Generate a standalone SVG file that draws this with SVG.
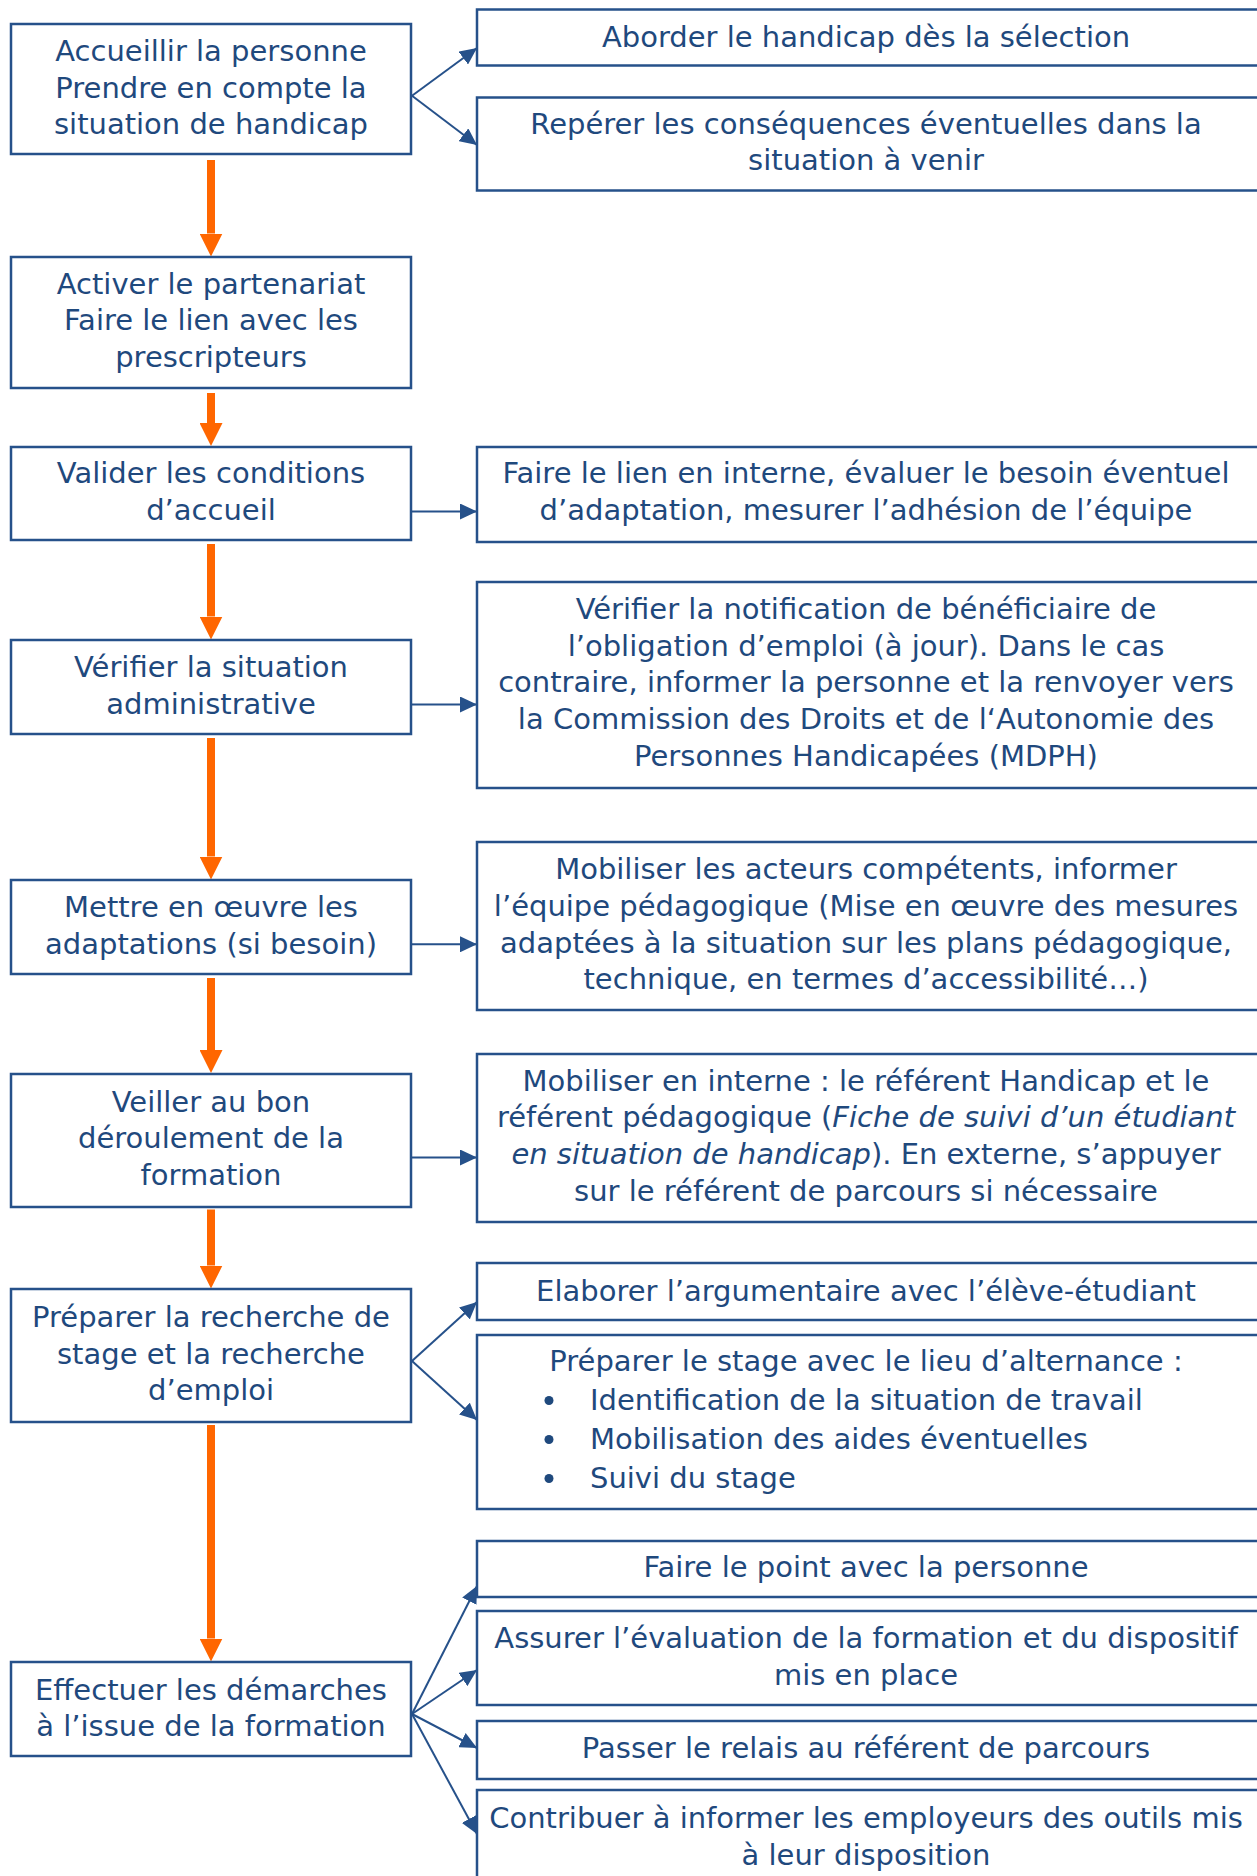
<svg xmlns="http://www.w3.org/2000/svg" width="1257" height="1876" viewBox="0 0 1257 1876">
<style>
.box{fill:#ffffff;stroke:#26518A;stroke-width:2.5}
.t{font-family:"DejaVu Sans","Liberation Sans",sans-serif;font-size:29px;fill:#1F497D;text-anchor:middle}
.ts{text-anchor:start}
.it{font-style:italic}
.bl{stroke:#26518A;stroke-width:2;fill:none}
.or{stroke:#FF6600;stroke-width:8;fill:none}
</style>
<defs>
<marker id="bh" viewBox="0 0 17 16" refX="17" refY="8" markerWidth="17" markerHeight="16" markerUnits="userSpaceOnUse" orient="auto">
<path d="M0,0 L17,8 L0,16 z" fill="#26518A"/>
</marker>
<marker id="oh" viewBox="0 0 23 23" refX="0" refY="11.5" markerWidth="23" markerHeight="23" markerUnits="userSpaceOnUse" orient="auto">
<path d="M0,0 L23,11.5 L0,23 z" fill="#FF6600"/>
</marker>
</defs>
<rect width="1257" height="1876" fill="#ffffff"/>

<g id="connectors">
<line class="or" x1="211" y1="160" x2="211" y2="233.5" marker-end="url(#oh)"/>
<line class="or" x1="211" y1="393" x2="211" y2="423" marker-end="url(#oh)"/>
<line class="or" x1="211" y1="544" x2="211" y2="616.5" marker-end="url(#oh)"/>
<line class="or" x1="211" y1="738" x2="211" y2="856.5" marker-end="url(#oh)"/>
<line class="or" x1="211" y1="978" x2="211" y2="1050" marker-end="url(#oh)"/>
<line class="or" x1="211" y1="1209.5" x2="211" y2="1265.5" marker-end="url(#oh)"/>
<line class="or" x1="211" y1="1425" x2="211" y2="1638.5" marker-end="url(#oh)"/>
<line class="bl" x1="412" y1="95.7" x2="477" y2="48" marker-end="url(#bh)"/>
<line class="bl" x1="412" y1="95.7" x2="477" y2="145" marker-end="url(#bh)"/>
<line class="bl" x1="411" y1="511.5" x2="477" y2="511.5" marker-end="url(#bh)"/>
<line class="bl" x1="411" y1="704.5" x2="477" y2="704.5" marker-end="url(#bh)"/>
<line class="bl" x1="411" y1="944.3" x2="477" y2="944.3" marker-end="url(#bh)"/>
<line class="bl" x1="411" y1="1157.5" x2="477" y2="1157.5" marker-end="url(#bh)"/>
<line class="bl" x1="412" y1="1361" x2="477" y2="1302" marker-end="url(#bh)"/>
<line class="bl" x1="412" y1="1361" x2="477" y2="1420" marker-end="url(#bh)"/>
<line class="bl" x1="412" y1="1714" x2="477" y2="1586" marker-end="url(#bh)"/>
<line class="bl" x1="412" y1="1714" x2="477" y2="1670" marker-end="url(#bh)"/>
<line class="bl" x1="412" y1="1714" x2="477" y2="1748" marker-end="url(#bh)"/>
<line class="bl" x1="412" y1="1714" x2="477" y2="1834" marker-end="url(#bh)"/>
</g>

<g id="a1"><rect class="box" x="11" y="24" width="400" height="130"/>
<text class="t" x="211" y="61">Accueillir la personne</text>
<text class="t" x="211" y="97.7">Prendre en compte la</text>
<text class="t" x="211" y="134.4">situation de handicap</text></g>

<g id="r1"><rect class="box" x="477" y="9.5" width="800" height="56"/>
<text class="t" x="866" y="46.5">Aborder le handicap dès la sélection</text></g>

<g id="r2"><rect class="box" x="477" y="97.5" width="800" height="93"/>
<text class="t" x="866" y="133.5">Repérer les conséquences éventuelles dans la</text>
<text class="t" x="866" y="170.2">situation à venir</text></g>

<g id="a2"><rect class="box" x="11" y="257" width="400" height="131"/>
<text class="t" x="211" y="293.5">Activer le partenariat</text>
<text class="t" x="211" y="330.2">Faire le lien avec les</text>
<text class="t" x="211" y="366.9">prescripteurs</text></g>

<g id="a3"><rect class="box" x="11" y="447" width="400" height="93"/>
<text class="t" x="211" y="483.3">Valider les conditions</text>
<text class="t" x="211" y="520">d’accueil</text></g>

<g id="r3"><rect class="box" x="477" y="447" width="800" height="95"/>
<text class="t" x="866" y="483.3">Faire le lien en interne, évaluer le besoin éventuel</text>
<text class="t" x="866" y="520">d’adaptation, mesurer l’adhésion de l’équipe</text></g>

<g id="a4"><rect class="box" x="11" y="640" width="400" height="94"/>
<text class="t" x="211" y="677">Vérifier la situation</text>
<text class="t" x="211" y="713.7">administrative</text></g>

<g id="r4"><rect class="box" x="477" y="582" width="800" height="206"/>
<text class="t" x="866" y="619">Vérifier la notification de bénéficiaire de</text>
<text class="t" x="866" y="655.7">l’obligation d’emploi (à jour). Dans le cas</text>
<text class="t" x="866" y="692.4">contraire, informer la personne et la renvoyer vers</text>
<text class="t" x="866" y="729.1">la Commission des Droits et de l‘Autonomie des</text>
<text class="t" x="866" y="765.8">Personnes Handicapées (MDPH)</text></g>

<g id="a5"><rect class="box" x="11" y="880" width="400" height="94"/>
<text class="t" x="211" y="917.3">Mettre en œuvre les</text>
<text class="t" x="211" y="954">adaptations (si besoin)</text></g>

<g id="r5"><rect class="box" x="477" y="842" width="800" height="168"/>
<text class="t" x="866" y="879.3">Mobiliser les acteurs compétents, informer</text>
<text class="t" x="866" y="916">l’équipe pédagogique (Mise en œuvre des mesures</text>
<text class="t" x="866" y="952.7">adaptées à la situation sur les plans pédagogique,</text>
<text class="t" x="866" y="989.4">technique, en termes d’accessibilité…)</text></g>

<g id="a6"><rect class="box" x="11" y="1074" width="400" height="133"/>
<text class="t" x="211" y="1111.7">Veiller au bon</text>
<text class="t" x="211" y="1148.4">déroulement de la</text>
<text class="t" x="211" y="1185.1">formation</text></g>

<g id="r6"><rect class="box" x="477" y="1054" width="800" height="168"/>
<text class="t" x="866" y="1090.5">Mobiliser en interne : le référent Handicap et le</text>
<text class="t" x="866" y="1127.2">référent pédagogique (<tspan class="it">Fiche de suivi d’un étudiant</tspan></text>
<text class="t" x="866" y="1163.9"><tspan class="it">en situation de handicap</tspan>). En externe, s’appuyer</text>
<text class="t" x="866" y="1200.6">sur le référent de parcours si nécessaire</text></g>

<g id="a7"><rect class="box" x="11" y="1289" width="400" height="133"/>
<text class="t" x="211" y="1327">Préparer la recherche de</text>
<text class="t" x="211" y="1363.7">stage et la recherche</text>
<text class="t" x="211" y="1400.4">d’emploi</text></g>

<g id="r7"><rect class="box" x="477" y="1263" width="800" height="57"/>
<text class="t" x="866" y="1300.5">Elaborer l’argumentaire avec l’élève-étudiant</text></g>

<g id="r8"><rect class="box" x="477" y="1335" width="800" height="174"/>
<text class="t" x="866" y="1371">Préparer le stage avec le lieu d’alternance :</text>
<circle cx="549" cy="1400.5" r="4.5" fill="#1F497D"/>
<circle cx="549" cy="1439.5" r="4.5" fill="#1F497D"/>
<circle cx="549" cy="1478.5" r="4.5" fill="#1F497D"/>
<text class="t ts" x="590" y="1410">Identification de la situation de travail</text>
<text class="t ts" x="590" y="1449">Mobilisation des aides éventuelles</text>
<text class="t ts" x="590" y="1488">Suivi du stage</text></g>

<g id="a8"><rect class="box" x="11" y="1662" width="400" height="94"/>
<text class="t" x="211" y="1699.5">Effectuer les démarches</text>
<text class="t" x="211" y="1736.2">à l’issue de la formation</text></g>

<g id="r9"><rect class="box" x="477" y="1541" width="800" height="56"/>
<text class="t" x="866" y="1577">Faire le point avec la personne</text></g>

<g id="r10"><rect class="box" x="477" y="1611" width="800" height="94"/>
<text class="t" x="866" y="1648">Assurer l’évaluation de la formation et du dispositif</text>
<text class="t" x="866" y="1684.7">mis en place</text></g>

<g id="r11"><rect class="box" x="477" y="1721" width="800" height="58"/>
<text class="t" x="866" y="1758">Passer le relais au référent de parcours</text></g>

<g id="r12"><rect class="box" x="477" y="1790" width="800" height="120"/>
<text class="t" x="866" y="1828">Contribuer à informer les employeurs des outils mis</text>
<text class="t" x="866" y="1865">à leur disposition</text></g>
</svg>
